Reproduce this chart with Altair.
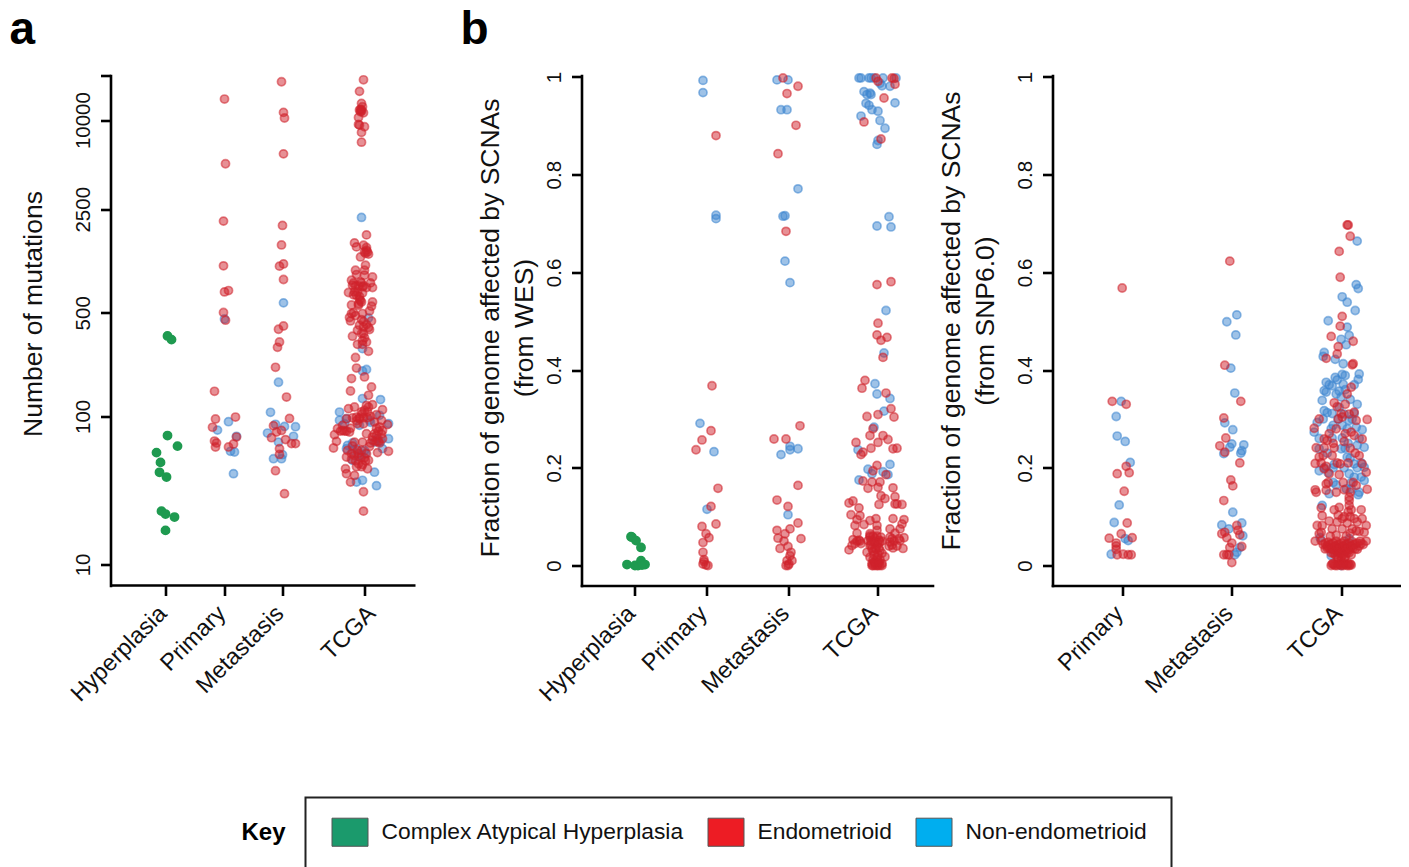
import altair as alt
import pandas as pd

FONT = "Liberation Sans"
KEY_TYPES = ["Complex Atypical Hyperplasia", "Endometrioid", "Non-endometrioid"]
KEY_COLORS = ["#1b9a6c", "#ed1c24", "#00aeef"]
POINT_TYPES = ["Non-endometrioid", "Endometrioid", "Complex Atypical Hyperplasia"]
POINT_COLORS = ["#3d85cf", "#cf222b", "#1f9a50"]
CATS = ["Hyperplasia", "Primary", "Metastasis", "TCGA"]
A_CENTRES = [55, 114, 172, 254]
B1_CENTRES = [52.5, 124.5, 206.5, 295.5]
B2_CENTRES = [69.7, 179.3, 288.7]

# (offset from the category's centre, log10 number of mutations)
A_HYP_CAH = [(2,2.543),(6,2.518),(2,1.870),(12,1.799),(-9,1.755),(-5,1.689),(-6,1.622),(1,1.590),(-4,1.360),(0,1.340),(9,1.320),(0,1.230)]
A_PRI_END = [(0,4.142),(1,3.705),(-1,3.318),(-1,3.016),(0,2.840),(4,2.849),(-1,2.701),(1,2.649),(-10,2.169),(-9,1.982),(11,1.995),(-12,1.926),(-10,1.833),(-8,1.820),(-9,1.793),(12,1.860),(4,1.793),(9,1.813)]
A_PRI_NON = [(0,2.657),(4,1.964),(-7,1.907),(12,1.865),(6,1.764),(10,1.759),(9,1.613)]
A_MET_END = [(-1,4.259),(1,4.052),(2,4.014),(1,3.772),(0,3.289),(-1,3.157),(1,3.029),(-3,3.014),(1,2.924),(1,2.610),(-4,2.588),(-3,2.502),(-5,2.466),(-7,2.331),(4,2.130),(7,1.986),(-9,1.937),(-6,1.894),(-1,1.905),(-11,1.856),(3,1.843),(9,1.816),(13,1.816),(-3,1.782),(-3,1.743),(-7,1.633),(2,1.478)]
A_MET_NON = [(1,2.766),(-4,2.230),(-12,2.027),(-7,1.946),(2,1.932),(13,1.930),(-15,1.887),(11,1.865),(-4,1.826),(0,1.741),(-9,1.714),(-1,1.714)]
A_TCGA_END = [(-1,4.272),(-5,4.194),(-3,4.113),(-2,4.090),(-5,4.068),(-4,4.072),(-4,4.056),(-1,4.049),(-6,4.018),(-6,3.971),(-5,3.966),(0,3.955),(-3,3.917),(-3,3.851),
 (2,3.225),(-10,3.171),(-8,3.144),(-1,3.155),(2,3.140),(2,3.122),(4,3.095),(-4,3.076),(1,3.020),(-9,2.986),(0,2.986),(-8,2.957),(0,2.953),(8,2.941),(-13,2.919),(-12,2.885),(-4,2.907),(6,2.901),(8,2.870),(-2,2.874),(-16,2.836),(-10,2.840),(-2,2.833),(-8,2.818),(-5,2.789),(-3,2.772),(8,2.772),(7,2.743),(-13,2.752),(-6,2.750),(5,2.711),(-13,2.694),(-2,2.694),(-15,2.667),(7,2.644),(-14,2.644),(-3,2.653),(-5,2.615),(-1,2.603),(5,2.586),(-7,2.581),(-3,2.559),(-12,2.541),(2,2.502),(-7,2.486),(-2,2.486),(4,2.439),(-9,2.397),(-8,2.326),(0,2.266),(-13,2.255),
 (-14,2.171),(7,2.198),(4,2.142),(8,2.079),(4,2.063),(-10,2.063),(-16,2.052),(0,2.041),(-2,2.018),(18,2.045),(12,2.011),(-8,1.995),(-18,1.984),(-7,1.951),(10,1.961),(17,1.973),(23,1.944),(-27,1.917),(-22,1.905),(-15,1.894),(-30,1.876),(18,1.905),(10,1.883),(2,1.883),(-28,1.831),(-31,1.786),(18,1.849),(8,1.838),(-2,1.826),(-10,1.826),(5,1.797),(-3,1.770),(-17,1.770),(2,1.748),(13,1.755),(24,1.764),(-18,1.725),(-10,1.736),(4,1.703),(-2,1.674),(3,1.646),(-19,1.646),(-18,1.613),(-10,1.601),(-14,1.556),(-1,1.491),(-1,1.360),(-13,1.748),(-5,1.984),(2,2.074),(15,1.928),(-22,1.939)]
A_TCGA_END_DENSE = [(-11,2.90),(-9,2.88),(-6,2.88),(-3,2.90),(-1,2.88),(2,2.87),(-11,2.82),(-7,2.84),(-5,2.81),(-4,2.78),(-6,2.76),(-11,2.70),(-9,2.68),(-1,2.64),(2,2.62),(4,2.60),(-1,2.56),(0,2.53),(-2,2.51),(0,3.11),(1,3.10),(3,3.11),(-3,4.07),(-3,4.06),
 (-12,1.99),(-8,1.97),(-5,1.99),(-1,1.99),(3,1.99),(6,2.00),(-14,1.92),(-18,1.90),(-20,1.90),(-24,1.90),(12,1.92),(14,1.90),(17,1.88),(12,1.87),(8,1.86),(14,1.83),(6,1.82),(-12,1.80),(-7,1.77),(-6,1.75),(-4,1.72),(-13,1.71),(-9,1.70),(0,1.72),(1,1.70),(-6,1.68),(-3,1.66),(-8,1.66),(15,1.82),(12,1.83),(-1,1.95),(3,2.03),(-3,2.03)]
A_TCGA_NON = [(-3,3.343),(4,2.664),(-2,2.457),(2,2.316),(-2,2.306),(-2,2.120),(16,2.113),(-25,2.029),(-25,1.973),(-18,1.984),(-5,1.939),(5,1.973),(24,1.951),(24,1.849),(15,2.007),(-17,1.804),(-18,1.782),(18,1.782),(10,1.826),(-3,1.736),(-12,1.703),(10,1.623),(12,1.532),(-2,1.568),(-8,1.556),(0,1.770),(-20,1.95),(-12,1.82),(-8,1.78),(-12,1.77),(-6,1.73),(1,1.75),(13,1.85),(6,1.96),(16,1.83)]

# (offset from the category's centre, fraction of genome, WES)
B_HYP_CAH = [(-2,.058),(-3,.059),(2,.051),(7,.037),(-7,.002),(1,0),(4,0),(7,.010),(11,.002),(8,.001)]
B_PRI_END = [(10,.880),(6,.368),(5,.276),(-4,.257),(-10,.237),(12,.158),(5,.121),(-4,.080),(10,.085),(0,.065),(3,.057),(-3,.047),(-3,.027),(-2,.012),(-3,.003),(0,.001),(2,0),(-2,.008)]
B_PRI_NON = [(-3,.993),(-3,.968),(10,.717),(10,.710),(-6,.291),(8,.233),(1,.115)]
B_MET_END = [(-5,.998),(10,.981),(-1,.966),(8,.901),(-10,.843),(-2,.684),(12,.286),(-14,.259),(-2,.259),(10,.164),(-11,.134),(0,.121),(10,.087),(-11,.072),(2,.075),(-3,.065),(-10,.056),(13,.055),(-4,.050),(0,.039),(-8,.035),(3,.027),(2,.020),(4,.010),(-1,.010),(0,0),(-2,0),(1,.003)]
B_MET_NON = [(-11,.994),(0,.994),(-7,.933),(-1,.933),(10,.771),(-5,.715),(-3,.716),(-3,.623),(2,.579),(2,.244),(2,.237),(10,.239),(-7,.227),(0,.104)]
B_TCGA_END = [(-1,.998),(15,.998),(17,.997),(1,.991),(18,.985),(7,.957),(-13,.908),(4,.873),(0,.575),(14,.581),(1,.496),(0,.472),(10,.467),(4,.461),(6,.426),(-12,.379),(-15,.363),(9,.353),(14,.321),(1,.309),(-10,.305),(17,.304),(-4,.280),(-7,.266),(6,.266),(11,.258),(-21,.252),(1,.252),(-6,.240),(16,.239),(20,.240),(-14,.232),(-16,.227),(0,.205),(-4,.194),(9,.186),(-14,.173),(-5,.171),(3,.171),(-9,.158),(1,.160),(16,.159),
 (4,.143),(18,.141),(8,.137),(-24,.132),(-28,.128),(2,.125),(18,.126),(25,.125),(-18,.118),(20,.126),(-26,.104),(-17,.102),(-20,.094),(-1,.096),(-7,.092),(16,.096),(27,.094),(-22,.082),(-13,.084),(0,.082),(25,.085),(0,.072),(13,.075),(23,.075),(-20,.066),(-7,.061),(18,.066),(13,.058),(27,.057),(-24,.053),(-17,.050),(-9,.051),(-2,.055),(3,.048),(23,.051),(13,.048),(-25,.041),(-7,.041),(0,.041),(16,.036),(26,.035),(-28,.032),(-10,.027),(-4,.029),(3,.031),(8,.018),(-7,.017),(0,.017),(-3,.007),(1,.007),(-5,0),(-2,0),(1,0),(5,0),(-4,0),(0,0),(3,0),(-6,.043),(-2,.035),(-4,.052),(2,.052)]
B_TCGA_END_DENSE = [(-7,.058),(-4,.060),(0,.060),(4,.058),(-6,.050),(-2,.047),(1,.045),(5,.050),(-5,.035),(-1,.033),(2,.036),(-3,.022),(1,.023),(5,.025),(-4,.012),(0,.012),(3,.012),(-5,.004),(-2,.005),(2,.005),(5,.004),(-7,.065),(15,.055),(17,.050),(-20,.050),(-18,.052),(-16,.045),(-22,.045),(12,.040),(15,.042),(20,.040),(22,.055)]
B_TCGA_NON = [(-18,.998),(-16,.998),(-8,.998),(-6,.998),(-3,.998),(6,.998),(19,.998),(3,.987),(5,.982),(13,.981),(-13,.970),(-7,.967),(-10,.964),(-6,.964),(-11,.946),(-8,.942),(18,.947),(-5,.933),(1,.930),(-16,.920),(3,.911),(8,.895),(1,.870),(0,.862),(12,.714),(0,.695),(14,.693),(9,.522),(7,.435),(-2,.372),(0,.351),(13,.342),(7,.316),(-3,.283),(-19,.237),(-9,.197),(13,.207),(6,.192),(-5,.188),(11,.186),(-18,.175)]

# (offset from the category's centre, fraction of genome, SNP6.0)
C_PRI_END = [(0,.568),(-10,.336),(4,.330),(-5,.188),(4,.203),(7,.190),(2,.152),(5,.087),(-1,.065),(-13,.056),(10,.057),(-6,.046),(-6,.040),(-6,.033),(-5,.022),(1,.023),(6,.022),(9,.022)]
C_PRI_NON = [(-1,.336),(-6,.305),(-5,.265),(3,.254),(8,.211),(-3,.124),(-8,.088),(3,.055),(6,.051),(-11,.023)]
C_MET_END = [(-2,.623),(-7,.410),(9,.336),(-8,.302),(-6,.261),(-12,.245),(-7,.232),(8,.210),(-1,.175),(1,.163),(-8,.133),(5,.082),(6,.072),(-7,.068),(-10,.065),(8,.063),(-5,.057),(0,.046),(-2,.037),(10,.039),(-8,.022),(-5,.022),(-3,.022),(0,.006)]
C_MET_NON = [(5,.513),(-5,.499),(4,.472),(-1,.404),(3,.353),(-7,.292),(1,.278),(0,.249),(12,.247),(-2,.242),(10,.235),(9,.230),(-8,.229),(1,.109),(10,.087),(-10,.083),(-3,.075),(11,.061),(8,.037),(5,.027),(3,.022)]
C_TCGA_END = [(6,.697),(7,.697),(9,.674),(-2,.643),(-1,.590),(1,.510),(-1,.490),(-10,.469),(12,.459),(-3,.448),(-4,.433),(-15,.424),(11,.411),(12,.413),(10,.365),(6,.351),
 (-7,.333),(4,.330),(-4,.325),(0,.311),(13,.314),(26,.299),(-22,.300),(1,.304),(-27,.281),(10,.273),(13,.266),(21,.259),(-17,.259),(-14,.256),(3,.254),(-25,.241),(-17,.241),(-7,.241),(15,.297),
 (-26,.209),(-18,.225),(-15,.203),(-22,.222),(-9,.225),(-1,.208),(-12,.188),(-2,.186),(-17,.198),(18,.225),(21,.208),(25,.191),(15,.164),(26,.156),(-26,.155),(-15,.167),(-15,.154),(-25,.150),(3,.155),
 (8,.133),(8,.123),(10,.114),(-20,.118),(-2,.119),(20,.114),(-7,.114),(-19,.102),(1,.096),(13,.096),(-12,.091),(21,.096),(-24,.082),(-19,.082),(-4,.089),(6,.087),(16,.089),(25,.082),(23,.068),(-22,.065),(-9,.075),(1,.075),(11,.075),(15,.071),(-26,.050),(25,.050),(-20,.051),
 (-18,.043),(-14,.040),(-10,.044),(-6,.040),(-2,.044),(2,.040),(6,.044),(10,.040),(14,.044),(18,.040),(22,.043),(-16,.034),(-12,.036),(-8,.032),(-4,.036),(0,.032),(4,.036),(8,.032),(12,.036),(16,.033),(-13,.048),(-5,.050),(3,.050),(11,.049),(19,.050),
 (-10,.026),(-6,.022),(-2,.026),(2,.022),(6,.026),(10,.022),(-3,.014),(3,.014),(0,.010),(-10,0),(-7,.002),(-4,0),(-1,.002),(2,0),(5,.002),(8,0),(10,.001),(-8,.004),(7,.004)]
C_TCGA_END_DENSE = [(-16,.045),(-12,.042),(-8,.046),(-4,.042),(0,.046),(4,.042),(8,.046),(12,.042),(16,.046),(20,.045),(-14,.036),(-10,.034),(-6,.037),(-2,.034),(2,.037),(6,.034),(10,.037),(14,.034),(-8,.026),(-4,.028),(0,.025),(4,.028),(8,.026),(-4,.018),(0,.018),(4,.018),(-9,.003),(-6,0),(-3,.003),(0,0),(3,.003),(6,0),(9,.003),(5,.060),(-5,.062),(9,.066),(-11,.060),(7,.110),(9,.100),(8,.140),(9,.150),(-3,.103),(3,.100),(-20,.068),(18,.070),
 (-12,.270),(-5,.280),(-8,.250),(9,.240),(14,.230),(-20,.210),(-4,.210),(7,.210),(-13,.170),(2,.170),(-5,.150),(12,.170),(4,.270),(-3,.300),(8,.310)]
C_TCGA_NON = [(16,.664),(15,.575),(17,.567),(1,.550),(6,.539),(14,.522),(-13,.501),(6,.488),(8,.471),(0,.463),(5,.452),(-17,.436),(-18,.428),(-6,.422),(2,.413),(18,.392),(17,.381),(1,.391),(-6,.385),(4,.389),(-15,.375),(2,.371),(-17,.358),(-15,.355),(-2,.357),(-5,.351),(0,.345),(-19,.338),(-9,.368),
 (16,.330),(-17,.317),(-14,.313),(-9,.311),(-2,.324),(13,.311),(-24,.293),(-27,.273),(-8,.287),(1,.287),(8,.297),(15,.283),(21,.278),(-9,.261),(1,.261),(16,.246),(23,.242),(0,.239),(-22,.239),
 (-7,.207),(23,.201),(-22,.194),(8,.188),(13,.181),(23,.174),(20,.181),(-5,.165),(5,.157),(17,.145),(-12,.147),(10,.157),(-19,.123),(13,.208),(6,.222),(-10,.020),(8,.055),(-21,.057),(0,0),
 (-12,.370),(-4,.380),(4,.360),(9,.340),(13,.370),(-3,.300),(3,.310),(-10,.280),(6,.280),(11,.300),(-17,.200),(-13,.190),(-8,.200),(3,.200),(9,.220),(16,.200),(20,.210),(18,.150),(-8,.170),(10,.170),(-18,.300),(-22,.260),(-14,.230),(4,.240),(18,.260),(7,.250)]


def rows(centre, pairs, kind, log=False):
    return [{"pos": centre + dx, "value": 10 ** v if log else v, "kind": kind} for dx, v in pairs]


def panel(data, width, y_scale, y_values, label_expr, centres, names, title, title_x, title_y, extra=None, x_domain_line=True, label_offset=-3):
    expr = "{" + ",".join(f"'{c}':'{n}'" for c, n in zip(centres, names)) + "}['' + datum.value]"
    x = alt.X("pos:Q", scale=alt.Scale(domain=[0, width], nice=False, zero=False),
              axis=alt.Axis(values=centres, labelExpr=expr, title=None, grid=False, labelAngle=315, domain=x_domain_line,
                            labelAlign="right", labelBaseline="middle", labelFontSize=23.5, labelPadding=14, labelOffset=label_offset,
                            labelFont=FONT, labelColor="#111", labelOverlap=False, labelBound=False, labelFlush=False))
    y = alt.Y("value:Q", scale=y_scale,
              axis=alt.Axis(values=y_values, labelExpr=label_expr, title=title, grid=False, labelAngle=270,
                            labelAlign="center", labelBaseline="bottom", labelFontSize=20.5, labelPadding=7,
                            labelFont=FONT, labelColor="#111", labelOverlap=False, labelBound=False, labelFlush=False,
                            titleFont=FONT, titleFontSize=26.5, titleFontWeight="normal", titleColor="#111",
                            titleAngle=270, titleX=title_x, titleY=title_y, titleAlign="center",
                            titleBaseline="bottom", titleLineHeight=34))
    scale = alt.Scale(domain=POINT_TYPES, range=POINT_COLORS)
    is_cah = alt.datum.kind == KEY_TYPES[0]
    pts = alt.Chart(pd.DataFrame(data)).mark_circle(size=66, strokeWidth=1.7, opacity=1).encode(
        x=x, y=y,
        color=alt.Color("kind:N", scale=scale, legend=None),
        stroke=alt.Stroke("kind:N", scale=scale, legend=None),
        fillOpacity=alt.condition(is_cah, alt.value(1), alt.value(0.5)),
        strokeOpacity=alt.condition(is_cah, alt.value(1), alt.value(0.55)),
    )
    layers = [pts] + (extra or [])
    return alt.layer(*layers).properties(width=width, height=510)


CAH, END, NON = KEY_TYPES

a_data = rows(A_CENTRES[1], A_PRI_NON, NON, True) + rows(A_CENTRES[2], A_MET_NON, NON, True) + rows(A_CENTRES[3], A_TCGA_NON, NON, True) \
    + rows(A_CENTRES[1], A_PRI_END, END, True) + rows(A_CENTRES[2], A_MET_END, END, True) + rows(A_CENTRES[3], A_TCGA_END + A_TCGA_END_DENSE, END, True) \
    + rows(A_CENTRES[0], A_HYP_CAH, CAH, True)
b_data = rows(B1_CENTRES[1], B_PRI_NON, NON) + rows(B1_CENTRES[2], B_MET_NON, NON) + rows(B1_CENTRES[3], B_TCGA_NON, NON) \
    + rows(B1_CENTRES[1], B_PRI_END, END) + rows(B1_CENTRES[2], B_MET_END, END) + rows(B1_CENTRES[3], B_TCGA_END + B_TCGA_END_DENSE, END) \
    + rows(B1_CENTRES[0], B_HYP_CAH, CAH)
c_data = rows(B2_CENTRES[0], C_PRI_NON, NON) + rows(B2_CENTRES[1], C_MET_NON, NON) + rows(B2_CENTRES[2], C_TCGA_NON, NON) \
    + rows(B2_CENTRES[0], C_PRI_END, END) + rows(B2_CENTRES[1], C_MET_END, END) + rows(B2_CENTRES[2], C_TCGA_END + C_TCGA_END_DENSE, END)

one = alt.Chart(pd.DataFrame({"label": ["x"]}))


def note(text, x, y, size):
    return one.mark_text(text=text, font=FONT, fontWeight="bold", fontSize=size, align="left",
                         baseline="alphabetic", color="black").encode(x=alt.value(x), y=alt.value(y))


key_legend = alt.Chart(pd.DataFrame({"key": KEY_TYPES})).mark_square(opacity=0).encode(
    x=alt.value(0), y=alt.value(0),
    fill=alt.Fill("key:N", scale=alt.Scale(domain=KEY_TYPES, range=KEY_COLORS),
                  legend=alt.Legend(title=None, orient="none", legendX=221, legendY=738, direction="horizontal",
                                    columns=3, symbolType="M-1,-0.78H1V0.78H-1Z", symbolSize=1296, symbolStrokeColor="#555",
                                    symbolStrokeWidth=1, symbolOpacity=1, labelFont=FONT, labelFontSize=22.8,
                                    labelColor="#111", labelOffset=13, columnPadding=21, padding=0, labelLimit=400)),
)
key_box = one.mark_rect(filled=False, stroke="#222", strokeWidth=2).encode(
    x=alt.value(195), x2=alt.value(1061), y=alt.value(722), y2=alt.value(797))
x_line = one.mark_rule(color="black", strokeWidth=2.6).encode(x=alt.datum(0), x2=alt.datum(305), y=alt.value(510))

extras = [x_line, note("a", -101, -32, 46), note("b", 350, -32, 46), note("Key", 131, 764, 24), key_box, key_legend]

panel_a = panel(a_data, 350.5, alt.Scale(type="log", domain=[7.21, 20000], nice=False),
                [10, 100, 500, 2500, 10000, 20000], "datum.value == 20000 ? '' : '' + datum.value",
                A_CENTRES, CATS, "Number of mutations", -63, 238, extras, x_domain_line=False,
                label_offset={"condition": {"test": "datum.value == 254", "value": 7}, "value": -3})
frac_scale = alt.Scale(domain=[-0.0409, 1.003], nice=False, zero=False)
frac_ticks = [0, 0.2, 0.4, 0.6, 0.8, 1]
panel_b = panel(b_data, 351, frac_scale, frac_ticks, "'' + datum.value", B1_CENTRES, CATS,
                ["Fraction of genome affected by SCNAs", "(from WES)"], -77, 252)
panel_c = panel(c_data, 348, frac_scale, frac_ticks, "'' + datum.value", B2_CENTRES, CATS[1:],
                ["Fraction of genome affected by SCNAs", "(from SNP6.0)"], -87, 245)

chart = alt.hconcat(panel_a, panel_b, panel_c, spacing=120, bounds="flush").properties(
    padding={"left": 1.5, "top": -1.5, "right": 0, "bottom": 0}
).configure_view(stroke=None).configure_axis(
    domainColor="black", domainWidth=2.6, tickColor="black", tickWidth=2.6, tickSize=10, domainCap="square"
)

chart.save("out.html", embed_options={"renderer": "svg", "actions": False})
